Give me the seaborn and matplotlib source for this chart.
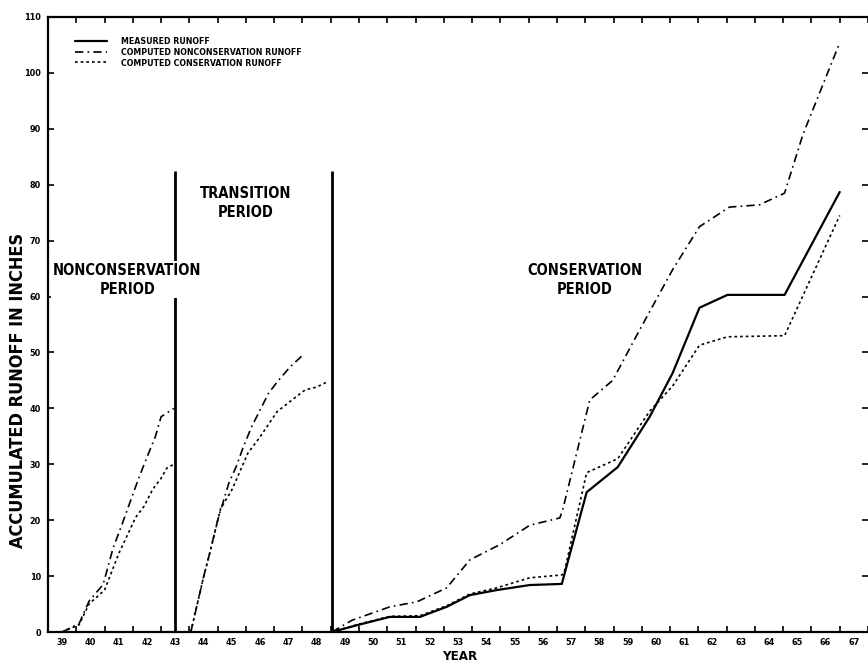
import numpy as np
import pandas as pd
import matplotlib
matplotlib.use("Agg")
import matplotlib.pyplot as plt
from matplotlib.lines import Line2D
from matplotlib import font_manager
import seaborn as sns

# ---- accumulated runoff (inches) by water year -------------------------
# Nonconservation period
years_noncons_p1 = [39.0, 39.6, 39.95, 40.45, 40.8, 41.1, 41.6, 41.9, 42.3, 42.5, 42.95]
noncons_p1 = [0.0, 1.5, 5.5, 8.5, 15.0, 19.0, 26.0, 30.0, 35.0, 38.5, 40.0]
years_cons_p1 = [39.0, 39.6, 39.95, 40.5, 41.0, 41.6, 41.9, 42.2, 42.5, 42.7, 42.95]
cons_p1 = [0.0, 1.3, 5.0, 7.5, 14.0, 20.5, 22.5, 25.5, 27.5, 29.3, 30.0]

# Transition period
years_noncons_p2 = [43.55, 44.0, 44.25, 44.5, 44.75, 44.9, 45.15, 45.4, 45.7, 46.05, 46.3, 46.6, 47.06, 47.55]
noncons_p2 = [0.0, 9.8, 14.7, 20.0, 24.2, 26.7, 29.5, 33.0, 36.7, 40.2, 42.7, 44.7, 47.4, 49.7]
years_cons_p2 = [43.55, 44.0, 44.25, 44.6, 45.0, 45.2, 45.57, 46.0, 46.28, 46.6, 47.13, 47.59, 48.0, 48.36]
cons_p2 = [0.0, 9.8, 14.7, 22.0, 25.4, 27.7, 32.0, 34.9, 37.0, 39.4, 41.5, 43.3, 43.8, 44.7]

# Conservation period
years_meas_p3 = [48.54, 49.49, 50.59, 51.65, 52.6, 53.42, 54.37, 55.54, 56.67, 57.55,
                 58.65, 59.78, 60.59, 61.54, 62.53, 64.55, 66.5]
meas_p3 = [0.0, 1.3, 2.7, 2.7, 4.5, 6.6, 7.5, 8.4, 8.6, 25.0,
           29.5, 38.5, 46.3, 58.0, 60.3, 60.3, 78.7]
years_noncons_p3 = [48.54, 49.25, 50.59, 51.55, 52.6, 53.42, 54.47, 55.54, 56.6, 56.7,
                    57.66, 58.47, 59.42, 60.59, 61.54, 62.6, 63.66, 64.55, 65.2, 66.5]
noncons_p3 = [0.0, 2.1, 4.5, 5.4, 7.9, 12.9, 15.6, 19.1, 20.4, 21.8,
              41.5, 45.0, 54.0, 64.8, 72.5, 76.0, 76.4, 78.5, 89.0, 105.4]
years_cons_p3 = [48.54, 49.49, 50.59, 51.65, 52.6, 53.42, 54.37, 55.54, 56.67, 56.75,
                 57.55, 58.65, 59.78, 60.59, 61.54, 62.53, 64.55, 66.5]
cons_p3 = [0.0, 1.4, 2.8, 2.9, 4.7, 6.8, 7.9, 9.7, 10.2, 10.5,
           28.5, 31.0, 39.5, 44.0, 51.3, 52.8, 53.0, 74.5]

series_names = ["MEASURED RUNOFF", "COMPUTED NONCONSERVATION RUNOFF",
                "COMPUTED CONSERVATION RUNOFF"]
period_names = ["NONCONSERVATION\nPERIOD", "TRANSITION\nPERIOD", "CONSERVATION\nPERIOD"]
period_bounds = [43.0, 48.54]
year_labels = list(range(39, 68))
y_ticks = list(range(0, 111, 10))

# ---- long-form table ----------------------------------------------------
rows = []
def add(series, period, xs, ys):
    for x, y in zip(xs, ys):
        rows.append({"series": series, "period": period, "year": x, "runoff": y})

add(series_names[1], 1, years_noncons_p1, noncons_p1)
add(series_names[2], 1, years_cons_p1, cons_p1)
add(series_names[1], 2, years_noncons_p2, noncons_p2)
add(series_names[2], 2, years_cons_p2, cons_p2)
add(series_names[0], 3, years_meas_p3, meas_p3)
add(series_names[1], 3, years_noncons_p3, noncons_p3)
add(series_names[2], 3, years_cons_p3, cons_p3)
df = pd.DataFrame(rows)

sns.set_style("white")
plt.rcParams["font.family"] = ["DejaVu Sans"]
plt.rcParams["font.weight"] = "bold"
plt.rcParams["font.stretch"] = "condensed"
for key in ["text.color", "axes.labelcolor", "xtick.color", "ytick.color", "axes.edgecolor"]:
    plt.rcParams[key] = "black"

bold_cond = font_manager.FontProperties(family="DejaVu Sans", weight="bold", stretch="condensed")

styles = {
    series_names[0]: dict(linestyle="-", linewidth=1.6),
    series_names[1]: dict(linestyle=(0, (5, 2.5, 1, 2.5)), linewidth=1.2),
    series_names[2]: dict(linestyle=(0, (1.6, 1.8)), linewidth=1.2),
}

fig = plt.figure(figsize=(8.68, 6.63), dpi=100)
ax = fig.add_axes([48 / 868, 31 / 663, 820 / 868, 615 / 663])

for name in series_names:
    sub = df[df["series"] == name]
    sns.lineplot(data=sub, x="year", y="runoff", units="period", estimator=None,
                 color="black", ax=ax, legend=False, **styles[name])

# period boundaries
ax.vlines(period_bounds, 0, 82.5, color="black", linewidth=2.0, zorder=3)

ax.set_xlim(38.5, 38.5 + 820 / 28.3)
ax.set_ylim(0, 110)

# year ticks at water-year boundaries, labels centred on each year
ax.set_xticks(np.arange(38.5, 68.0, 1.0))
ax.set_xticks(year_labels, minor=True)
ax.set_xticklabels([str(y) for y in year_labels], minor=True)
ax.tick_params(axis="x", which="major", direction="in", length=4, width=1.2,
               top=True, bottom=True, labelbottom=False)
ax.tick_params(axis="x", which="minor", length=0, labelsize=6.5, pad=4)
ax.set_yticks(y_ticks)
ax.set_yticklabels([str(v) for v in y_ticks])
ax.tick_params(axis="y", direction="in", length=4, width=1.2, left=True, right=True,
               labelsize=6.5, pad=5)
for lbl in ax.get_xticklabels(minor=True) + ax.get_yticklabels():
    lbl.set_fontproperties(bold_cond)
    lbl.set_fontsize(6.5)

for side in ["left", "bottom", "top"]:
    ax.spines[side].set_linewidth(1.6)
ax.spines["right"].set_visible(False)
ax.set_xlabel("")
ax.set_ylabel("")

# period captions
caption_pos = [(41.3, 63.0), (45.5, 76.7), (57.48, 63.0)]
for text, (x, y) in zip(period_names, caption_pos):
    ax.text(x, y, text, ha="center", va="center", fontproperties=bold_cond,
            fontsize=10.5, linespacing=1.35, zorder=5,
            bbox=dict(facecolor="white", edgecolor="none", pad=1.0))

# legend
handles = [Line2D([0], [0], color="black", **styles[n]) for n in series_names]
ax.legend(handles, series_names, loc="upper left", bbox_to_anchor=(0.033, 0.968),
          frameon=False, prop=font_manager.FontProperties(family="DejaVu Sans",
                                                          weight="bold", stretch="condensed",
                                                          size=6.3),
          handlelength=3.7, handletextpad=1.5, labelspacing=0.22,
          borderpad=0, borderaxespad=0)

fig.text(18 / 868, 1 - 390 / 663, "ACCUMULATED RUNOFF IN INCHES", rotation=90,
         ha="center", va="center", fontproperties=bold_cond, fontsize=13)
fig.text(460 / 868, 1 - 656 / 663, "YEAR", ha="center", va="center",
         fontproperties=bold_cond, fontsize=9.5)

fig.savefig("out.png", dpi=100, facecolor="white")
